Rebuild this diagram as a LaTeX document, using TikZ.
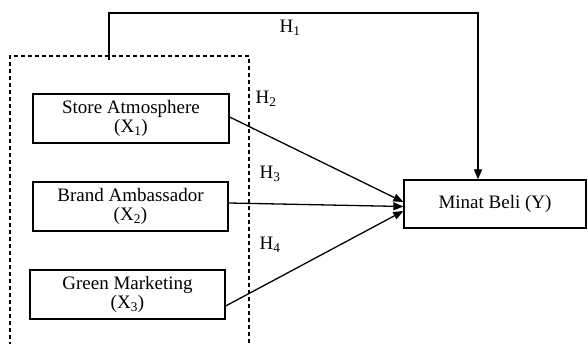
\documentclass[tikz,border=0pt]{standalone}
\usepackage{fontspec}
\setmainfont{Liberation Serif}
\usetikzlibrary{arrows.meta}
\begin{document}
\begin{tikzpicture}[x=1pt,y=-1pt,
  box/.style={draw,line width=1.3pt,rectangle,inner sep=0pt,minimum width=#1,minimum height=49pt,align=center,font=\fontsize{19}{19.5}\selectfont},
  lbl/.style={inner sep=0pt,font=\fontsize{19}{19.5}\selectfont},
  conn/.style={line width=1.3pt,-{Triangle[length=10pt,width=8pt]}},
  dashbox/.style={line width=1.2pt,dash pattern=on 4pt off 3pt}]
\useasboundingbox (0,0) rectangle (588,344);
\node[box=196pt] (s) at (131,118.5) {Store Atmosphere\\(X\textsubscript{1})};
\node[box=195pt] (b) at (130.5,206.5) {Brand Ambassador\\(X\textsubscript{2})};
\node[box=195pt] (g) at (127.5,294.5) {Green Marketing\\(X\textsubscript{3})};
\node[box=182pt,minimum height=48pt] (m) at (495,204) {Minat Beli (Y)};
\coordinate (dbl) at (10,346);
\coordinate (dtl) at (10,56);
\coordinate (dtr) at (249,56);
\coordinate (dbr) at (249,346);
\draw[dashbox] (dbl) -- (dtl) -- (dtr) -- (dbr);
\coordinate (t0) at (109,60);
\coordinate (t1) at (109,13);
\coordinate (t2) at (478,13);
\draw[conn] (t0) -- (t1) -- (t2) -- (t2 |- m.north);
\draw[conn] (s.east |- 0,117) -- (m.west |- 0,202);
\draw[conn] (b.east |- 0,203) -- (m.west |- 0,206.5);
\draw[conn] (g.east |- 0,306) -- (m.west |- 0,211);
\node[lbl] (h1) at (290,28) {H\textsubscript{1}};
\node[lbl] (h2) at (266,99) {H\textsubscript{2}};
\node[lbl] (h3) at (270,174) {H\textsubscript{3}};
\node[lbl] (h4) at (270,245) {H\textsubscript{4}};
\end{tikzpicture}
\end{document}
